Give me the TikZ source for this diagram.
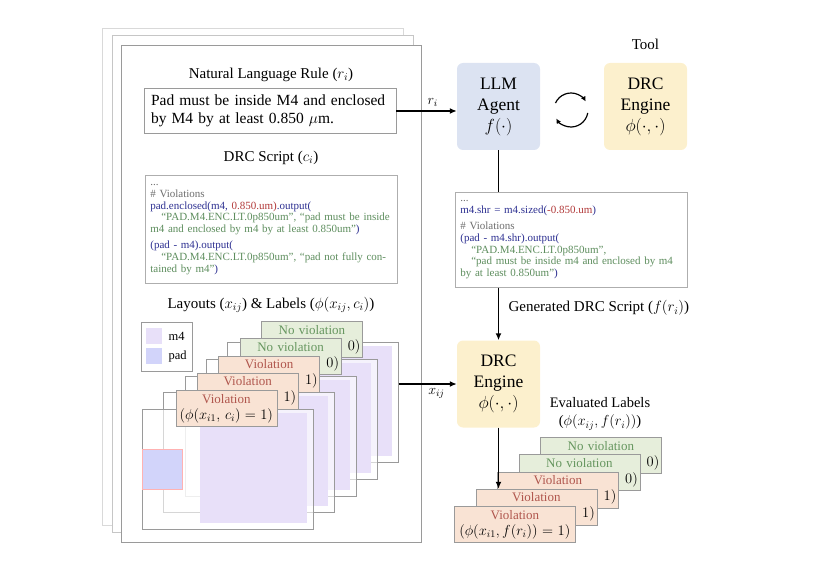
\documentclass[tikz,border=0pt]{standalone}
\usepackage{fix-cm}
\usepackage{fontspec}
\setmainfont{Liberation Serif}
\usetikzlibrary{
  arrows.meta,
  calc,
  positioning
}
\definecolor{agentblue}{HTML}{DCE3F2}
\definecolor{engineyellow}{HTML}{FCF0CD}
\definecolor{violfill}{HTML}{F9E3D4}
\definecolor{violtext}{HTML}{B0564D}
\definecolor{okfill}{HTML}{E6EEDB}
\definecolor{oktext}{HTML}{66965F}
\definecolor{codeblue}{HTML}{2E3192}
\definecolor{codered}{HTML}{B23A3A}
\definecolor{codegreen}{HTML}{5E8E5E}
\definecolor{codegray}{HTML}{6E6E6E}
\definecolor{mfour}{HTML}{E8E0F9}
\definecolor{padblue}{HTML}{D2D4FA}
\definecolor{edge}{HTML}{9A9A9A}
\newcommand{\codeid}[1]{\textcolor{codeblue}{#1}}
\newcommand{\codenum}[1]{\textcolor{codered}{#1}}
\newcommand{\codestr}[1]{\textcolor{codegreen}{#1}}
\newcommand{\codecmt}[1]{\textcolor{codegray}{#1}}
\newcommand{\labmath}[1]{{\fontsize{14.5}{16}\selectfont$#1$}}
\tikzset{
  page/.style={draw=#1, fill=white, line width=0.7pt},
  heading/.style={font=\fontsize{15}{18}\selectfont},
  rulebox/.style={
    draw=edge,
    fill=white,
    line width=0.8pt,
    align=left,
    text width=238pt,
    inner xsep=7pt,
    inner ysep=6.5pt,
    font=\fontsize{15.5}{18.5}\selectfont
  },
  codebox/.style={
    draw=edge!80,
    fill=white,
    line width=0.7pt,
    align=left,
    anchor=north west,
    inner xsep=5pt,
    inner ysep=6pt,
    font=\fontsize{11}{11.8}\selectfont
  },
  agentbox/.style={
    rounded corners=6pt,
    fill=agentblue,
    minimum width=83pt,
    minimum height=87pt,
    align=center,
    font=\fontsize{17.5}{21}\selectfont
  },
  enginebox/.style={agentbox, fill=engineyellow},
  layframe/.style={
    draw=edge,
    line width=0.7pt,
    fill=white,
    fill opacity=0.6,
    minimum width=171pt,
    minimum height=120pt,
    anchor=north west
  },
  vlabel/.style={
    draw=edge,
    line width=0.7pt,
    fill=violfill,
    anchor=north west,
    text width=97pt,
    minimum height=36pt,
    inner xsep=2pt,
    inner ysep=1pt,
    align=center,
    font=\fontsize{13}{16}\selectfont
  },
  nlabel/.style={vlabel, fill=okfill},
  evlabel/.style={vlabel, text width=117pt},
  arrow/.style={-{Latex[length=7pt,width=6pt]}, line width=1.4pt},
  link/.style={line width=1.4pt}
}

\begin{document}
\begin{tikzpicture}[x=1pt, y=-1pt]
  \useasboundingbox (0,0) rectangle (831,575);

  % stacked pages
  \draw[page=gray!30] (102,28) rectangle (403,525);
  \draw[page=gray!45] (112,35) rectangle (413,532);
  \draw[page=edge] (121,45) rectangle (421,542);

  \node[heading] (ruletitle) at (271,75) {Natural Language Rule ($r_i$)};
  \node[rulebox] (rule) at (270,111)
    {Pad must be inside M4 and enclosed\\by M4 by at least 0.850 $\mu$m.};

  \node[heading] (scripttitle) at (271,158) {DRC Script ($c_i$)};
  \node[codebox, text width=242pt, minimum height=108pt] (script) at (145,175) {%
    \codecmt{...}\\
    \codecmt{\# Violations}\\
    \codeid{pad.enclosed(m4,} \codenum{0.850.um)}\codeid{.output(}\\
    \hspace*{1em}\codestr{``PAD.M4.ENC.LT.0p850um'', ``pad must be inside}\\
    \codestr{m4 and enclosed by m4 by at least 0.850um''}\codeid{)}\\[4pt]
    \codeid{(pad - m4).output(}\\
    \hspace*{1em}\codestr{``PAD.M4.ENC.LT.0p850um'', ``pad not fully con-}\\
    \codestr{tained by m4''}\codeid{)}};

  \node[heading] (laytitle) at (271,305)
    {Layouts ($x_{ij}$) \& Labels ($\phi(x_{ij},c_i)$)};

  % legend
  \node[draw=edge, line width=0.7pt, minimum width=51pt, minimum height=49pt,
    anchor=north west] (legend) at (141,322) {};
  \fill[mfour] (146,328) rectangle (162,344);
  \fill[padblue] (146,348) rectangle (162,364);
  \node[anchor=west, font=\fontsize{12.5}{14}\selectfont] (legm) at (165,336) {m4};
  \node[anchor=west, font=\fontsize{12.5}{14}\selectfont] (legp) at (165,356) {pad};

  % layout frames, back to front
  \foreach \k in {5,4,...,1}{
    \pgfmathsetmacro{\fx}{142+21.25*(\k-1)}
    \pgfmathsetmacro{\fy}{409-16.75*(\k-1)}
    \node[layframe] (lay\k) at (\fx,\fy) {};
    \fill[mfour] ($(lay\k.north west)+(58pt,-4pt)$) rectangle +(107pt,-110pt);
  }
  \filldraw[fill=padblue, draw=red!30, line width=0.6pt]
    ($(lay1.north west)+(0pt,-40pt)$) rectangle +(40pt,-40pt);

  % labels on the layouts
  \foreach \k in {5,4}{
    \node[nlabel] (lab\k) at (175.5+21.4*\k-21.4, 390-17.25*\k+17.25)
      {\textcolor{oktext}{No violation}\\\hfill \labmath{0)}};
  }
  \foreach \k in {3,2}{
    \node[vlabel] (lab\k) at (175.5+21.4*\k-21.4, 390-17.25*\k+17.25)
      {\textcolor{violtext}{Violation}\\\hfill \labmath{1)}};
  }
  \node[vlabel] (lab1) at (175.5,390)
    {\textcolor{violtext}{Violation}\\\labmath{(\phi(x_{i1},\,c_i)=1)}};

  % agent and tool
  \node[agentbox] (agent) at (498.5,106.5) {LLM\\Agent\\$f(\cdot)$};
  \node[enginebox] (tool) at (645.5,106.5) {DRC\\Engine\\$\phi(\cdot,\cdot)$};
  \node[heading, above=10pt of tool] (tooltitle) {Tool};

  \coordinate (cyc) at (571,110);
  \draw[-{Latex[length=5pt,width=5pt]}, line width=1.2pt]
    ($(cyc)+(-156:17)$) arc[start angle=-156, end angle=-30, radius=17];
  \draw[-{Latex[length=5pt,width=5pt]}, line width=1.2pt]
    ($(cyc)+(10:17)$) arc[start angle=10, end angle=150, radius=17];

  % generated script
  \node[codebox, text width=222pt, minimum height=95pt] (genscript) at (455,192) {%
    \codecmt{...}\\
    \codeid{m4.shr = m4.sized(}\codenum{-0.850.um}\codeid{)}\\[4pt]
    \codecmt{\# Violations}\\
    \codeid{(pad - m4.shr).output(}\\
    \hspace*{1em}\codestr{``PAD.M4.ENC.LT.0p850um'',}\\
    \hspace*{1em}\codestr{``pad must be inside m4 and enclosed by m4}\\
    \codestr{by at least 0.850um''}\codeid{)}};
  \node[heading, anchor=west] (gentitle) at (505,308)
    {Generated DRC Script ($f(r_i)$)};

  \node[enginebox] (engine) at (498.5,384) {DRC\\Engine\\$\phi(\cdot,\cdot)$};

  \node[heading, align=center, font=\fontsize{14.5}{18}\selectfont] (evtitle)
    at (600,414) {Evaluated Labels\\($\phi(x_{ij},f(r_i))$)};

  % evaluated labels
  \foreach \k in {5,4}{
    \node[evlabel, fill=okfill] (ev\k) at (454+21.5*\k-21.5, 506-17.25*\k+17.25)
      {\textcolor{oktext}{No violation}\\\hfill \labmath{0)}};
  }
  \foreach \k in {3,2}{
    \node[evlabel] (ev\k) at (454+21.5*\k-21.5, 506-17.25*\k+17.25)
      {\textcolor{violtext}{Violation}\\\hfill \labmath{1)}};
  }
  \node[evlabel] (ev1) at (454,506)
    {\textcolor{violtext}{Violation}\\\labmath{(\phi(x_{i1},f(r_i))=1)}};

  % connectors
  \draw[arrow] (rule.east) -- (rule.east -| agent.west)
    node[pos=0.6, above, font=\fontsize{14}{16}\selectfont] {$r_i$};
  \draw[link] (agent.south) -- (genscript.north -| agent.south);
  \draw[arrow] (genscript.south -| agent.south) -- (engine.north);
  \draw[arrow] (lay5.east |- engine.west) -- (engine.west)
    node[pos=0.65, below, font=\fontsize{14}{16}\selectfont] {$x_{ij}$};
  \draw[arrow] (engine.south) -- (engine.south |- ev2.north);
\end{tikzpicture}
\end{document}
